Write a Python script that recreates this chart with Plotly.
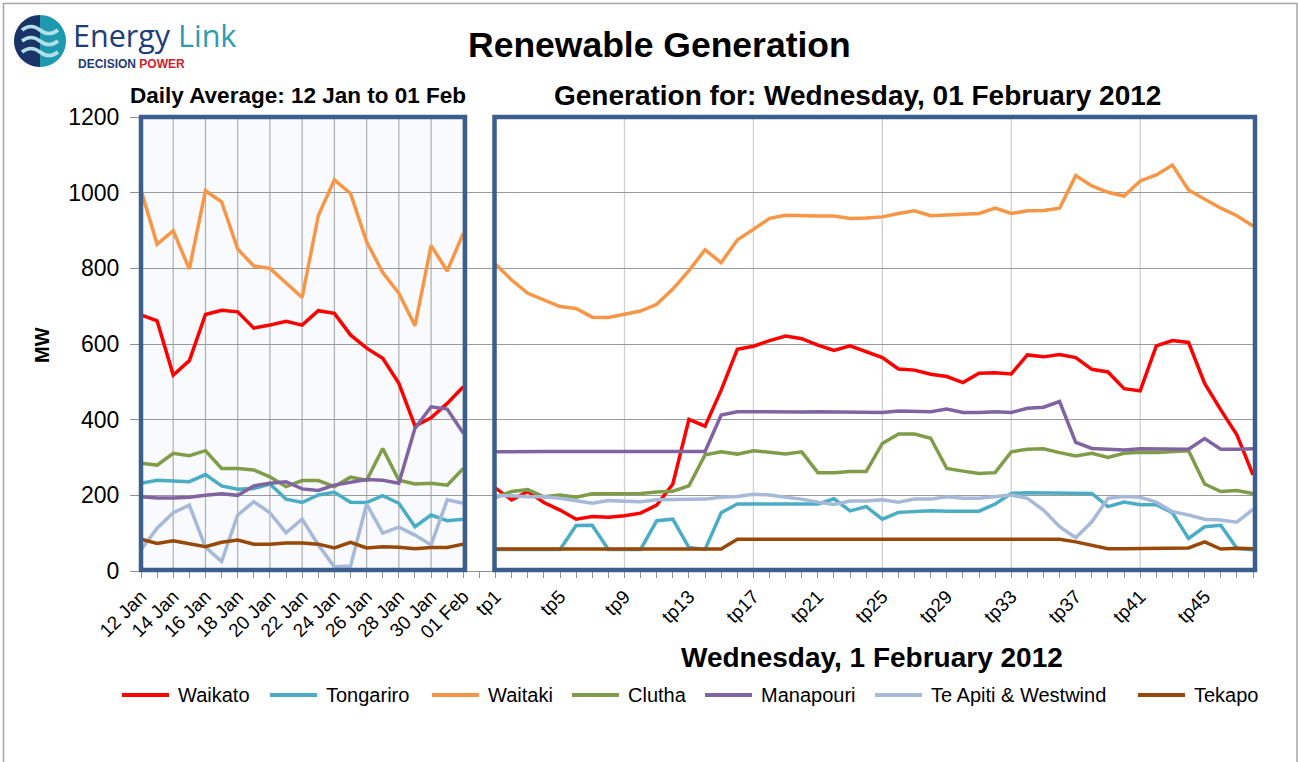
import math
import plotly.graph_objects as go

# ---------------- data ----------------
dates = ["12 Jan", "13 Jan", "14 Jan", "15 Jan", "16 Jan", "17 Jan", "18 Jan",
         "19 Jan", "20 Jan", "21 Jan", "22 Jan", "23 Jan", "24 Jan", "25 Jan",
         "26 Jan", "27 Jan", "28 Jan", "29 Jan", "30 Jan", "31 Jan", "01 Feb"]
gap = [" "]
tps = ["tp%d" % i for i in range(1, 49)]
categories = dates + gap + tps

date_labels = ["12 Jan", "14 Jan", "16 Jan", "18 Jan", "20 Jan", "22 Jan",
               "24 Jan", "26 Jan", "28 Jan", "30 Jan", "01 Feb"]
tp_labels = ["tp1", "tp5", "tp9", "tp13", "tp17", "tp21", "tp25", "tp29",
             "tp33", "tp37", "tp41", "tp45"]
tp_grid = ["tp1", "tp9", "tp17", "tp25", "tp33", "tp41"]

series_names = ["Waikato", "Tongariro", "Waitaki", "Clutha", "Manapouri",
                "Te Apiti & Westwind", "Tekapo"]

waikato_daily = [677, 661, 518, 556, 678, 689, 685, 642, 650, 660, 650, 688, 681, 624,
                 589, 562, 496, 383, 405, 443, 487]
tongariro_daily = [232, 240, 238, 236, 255, 225, 216, 218, 230, 190, 181, 201, 208, 182,
                   181, 199, 179, 117, 148, 133, 137]
waitaki_daily = [1007, 864, 899, 798, 1005, 976, 851, 806, 800, 762, 723, 939, 1034, 998,
                 870, 789, 734, 648, 860, 793, 893]
clutha_daily = [285, 280, 311, 305, 318, 271, 271, 267, 249, 223, 239, 239, 223, 248,
                240, 324, 240, 230, 232, 227, 271]
manapouri_daily = [196, 193, 193, 195, 200, 204, 200, 225, 232, 236, 217, 213, 227, 234,
                   242, 240, 232, 377, 434, 428, 364]
teapiti_daily = [56, 113, 154, 174, 63, 25, 148, 183, 154, 101, 137, 69, 11, 13,
                 177, 100, 116, 95, 69, 188, 179]
tekapo_daily = [84, 73, 80, 73, 64, 76, 82, 71, 71, 74, 74, 71, 61, 76,
                61, 64, 63, 59, 62, 62, 71]

waikato_tp = [219, 188, 210, 181, 161, 137, 144, 142, 146, 153,
              174, 230, 401, 383, 478, 586, 594, 609, 621, 614,
              597, 583, 595, 580, 564, 534, 531, 520, 514, 498,
              523, 524, 521, 571, 566, 572, 564, 533, 526, 482,
              476, 595, 609, 604, 496, 426, 360, 254]
tongariro_tp = [57, 57, 57, 57, 57, 120, 121, 57, 57, 57,
                133, 137, 62, 57, 154, 177, 177, 177, 177, 177,
                177, 191, 159, 170, 137, 155, 157, 159, 158, 158,
                158, 177, 205, 207, 207, 207, 207, 205, 170, 182,
                175, 175, 154, 86, 117, 121, 60, 56]
waitaki_tp = [811, 769, 734, 716, 699, 694, 671, 670, 679, 687,
              705, 745, 794, 849, 815, 875, 903, 932, 940, 938,
              938, 938, 932, 933, 936, 945, 952, 939, 941, 941,
              945, 959, 945, 952, 953, 959, 1045, 1018, 1001, 991,
              1031, 1047, 1073, 1007, 983, 959, 939, 912]
clutha_tp = [195, 210, 215, 196, 201, 195, 204, 204, 204, 205,
             209, 211, 225, 307, 315, 309, 318, 314, 309, 315,
             260, 260, 263, 263, 337, 362, 362, 351, 271, 264,
             258, 260, 315, 322, 323, 313, 304, 311, 300, 311,
             314, 313, 315, 318, 230, 210, 213, 205]
manapouri_tp = [315, 316, 316, 316, 316, 316, 316, 316, 316, 316,
                316, 316, 314, 316, 412, 421, 421, 420, 421, 420,
                421, 421, 421, 421, 419, 423, 421, 421, 428, 419,
                419, 421, 419, 430, 433, 448, 340, 324, 322, 320,
                323, 323, 322, 322, 350, 322, 322, 323]
teapiti_tp = [199, 199, 196, 196, 192, 186, 179, 186, 185, 183,
              188, 188, 190, 190, 195, 197, 203, 201, 195, 190,
              182, 176, 185, 185, 188, 182, 190, 190, 196, 192,
              192, 197, 201, 192, 161, 117, 88, 130, 192, 197,
              195, 182, 157, 148, 137, 135, 129, 163]
tekapo_tp = [58, 58, 58, 58, 58, 58, 58, 58, 58, 58,
             58, 58, 60, 59, 58, 84, 84, 84, 84, 84,
             84, 84, 84, 84, 84, 84, 84, 84, 84, 84,
             84, 84, 84, 84, 84, 84, 77, 69, 59, 59,
             60, 60, 60, 61, 77, 58, 60, 59]

daily = [waikato_daily, tongariro_daily, waitaki_daily, clutha_daily,
         manapouri_daily, teapiti_daily, tekapo_daily]
halfhourly = [waikato_tp, tongariro_tp, waitaki_tp, clutha_tp,
              manapouri_tp, teapiti_tp, tekapo_tp]
colors = ["#FF0000", "#4BACC6", "#F79646", "#7F9C48", "#8064A2", "#A7B9D9", "#984807"]

# ---------------- geometry helpers ----------------
W, H = 1298, 762
L, R, T, B = 141, 45, 117, 191
PW, PH = W - L - R, H - T - B


def px(x):
    return (x - L) / PW


def py(y):
    return (H - B - y) / PH


FONT = "Liberation Sans, Arial, sans-serif"
BOX = "#3B5E8C"

fig = go.Figure()
for name, col, d, h in zip(series_names, colors, daily, halfhourly):
    fig.add_trace(go.Scatter(x=dates, y=d, mode="lines", name=name,
                             legendgroup=name, showlegend=False,
                             line=dict(color=col, width=3.5)))
    fig.add_trace(go.Scatter(x=tps, y=h, mode="lines", name=name,
                             legendgroup=name, showlegend=False,
                             line=dict(color=col, width=3.5)))

ticktext = [c if (c in date_labels or c in tp_labels) else "" for c in categories]

shapes = []
# left panel background
shapes.append(dict(type="rect", xref="paper", yref="paper", x0=px(141), x1=px(465),
                   y0=0, y1=1, fillcolor="#F8FAFD", line=dict(width=0), layer="below"))
# vertical gridlines
for c in date_labels:
    i = categories.index(c)
    shapes.append(dict(type="line", xref="x", yref="y", x0=i, x1=i, y0=0, y1=1200,
                       line=dict(color="#B4B4B4", width=1.3), layer="below"))
for c in tp_grid:
    i = categories.index(c)
    shapes.append(dict(type="line", xref="x", yref="y", x0=i, x1=i, y0=0, y1=1200,
                       line=dict(color="#D0D0D0", width=1.3), layer="below"))
# panel boxes
shapes.append(dict(type="rect", xref="paper", yref="paper", x0=px(141), x1=px(465),
                   y0=py(570), y1=py(117), line=dict(color=BOX, width=4.5), layer="above"))
shapes.append(dict(type="rect", xref="paper", yref="paper", x0=px(494.5), x1=px(1255),
                   y0=py(570), y1=py(117), line=dict(color=BOX, width=4.5), layer="above"))
# outer border
shapes.append(dict(type="rect", xref="paper", yref="paper", x0=px(3.5), x1=px(1297),
                   y0=py(800), y1=py(3.5), line=dict(color="#A6A6A6", width=1.5)))

# logo circle (two halves) and waves
cx, cy, r = 40, 41, 26
left_pts = [(cx + r * math.cos(math.radians(a)), cy + r * math.sin(math.radians(a)))
            for a in range(90, 271, 6)]
right_pts = [(cx + r * math.cos(math.radians(a)), cy + r * math.sin(math.radians(a)))
             for a in range(-90, 91, 6)]


def poly(pts):
    return "M " + " L ".join("%f,%f" % (px(x), py(y)) for x, y in pts) + " Z"


shapes.append(dict(type="path", xref="paper", yref="paper", path=poly(left_pts),
                   fillcolor="#1B3468", line=dict(width=0)))
shapes.append(dict(type="path", xref="paper", yref="paper", path=poly(right_pts),
                   fillcolor="#1E9AB0", line=dict(width=0)))
for wy in (30, 41, 52):
    x0 = 22
    p = "M %f,%f Q %f,%f %f,%f T %f,%f" % (
        px(x0), py(wy), px(x0 + 9), py(wy - 7), px(x0 + 18), py(wy),
        px(x0 + 36), py(wy))
    shapes.append(dict(type="path", xref="paper", yref="paper", path=p,
                       line=dict(color="#B3E0E8", width=3.5)))

# legend (drawn below the chart)
legend_line_x = [122, 270, 432, 572, 705, 875, 1138]
LEG_Y = 695
annotations = []
for name, col, lx in zip(series_names, colors, legend_line_x):
    shapes.append(dict(type="line", xref="paper", yref="paper", x0=px(lx), x1=px(lx + 47),
                       y0=py(LEG_Y), y1=py(LEG_Y), line=dict(color=col, width=4)))
    annotations.append(dict(text=name, x=px(lx + 54), y=py(LEG_Y), xref="paper",
                            yref="paper", xanchor="left", yanchor="middle", showarrow=False,
                            font=dict(size=20, color="black", family=FONT)))


def ann(text, x, y, size, xanchor="center", color="black", family=FONT, angle=0):
    return dict(text=text, x=px(x), y=py(y), xref="paper", yref="paper",
                xanchor=xanchor, yanchor="middle", showarrow=False, textangle=angle,
                font=dict(size=size, color=color, family=family))


annotations += [
    ann("<b>Renewable Generation</b>", 659, 45, 35.5),
    ann("<b>Daily Average: 12 Jan to 01 Feb</b>", 298, 95, 22.5),
    ann("<b>Generation for: Wednesday, 01 February 2012</b>", 857, 95, 28),
    ann("<b>Wednesday, 1 February 2012</b>", 872, 657, 28),
    ann("<b>MW</b>", 42, 345, 20, angle=-90),
    ann("<span style='color:#1F3C7A'>Energy</span> <span style='color:#2A9BB5'>Link</span>",
        71, 35, 30.5, xanchor="left", family="Open Sans, sans-serif"),
    ann("<b><span style='color:#1F3C7A'>DECISION</span> <span style='color:#D4202C'>POWER</span></b>",
        76, 64, 12, xanchor="left"),
]

fig.update_layout(
    width=W, height=H,
    margin=dict(l=L, r=R, t=T, b=B),
    paper_bgcolor="white", plot_bgcolor="white",
    font=dict(family=FONT, color="black"),
    showlegend=False,
    xaxis=dict(type="category", categoryorder="array", categoryarray=categories,
               range=[0, len(categories) - 1], tickmode="array", tickvals=categories,
               ticktext=ticktext, tickangle=-45, ticks="outside", ticklen=6,
               tickcolor="#909090", tickwidth=1.3, showgrid=False, showline=True,
               linecolor="#909090", tickfont=dict(size=19, family=FONT), zeroline=False),
    yaxis=dict(range=[0, 1200], tickvals=[0, 200, 400, 600, 800, 1000, 1200],
               showgrid=True, gridcolor="#9A9A9A", gridwidth=1.3, ticks="outside",
               ticklen=10, tickcolor="#909090", tickwidth=1.3, zeroline=False,
               showline=False, tickfont=dict(size=23, family=FONT), ticklabelstandoff=6),
    shapes=shapes,
    annotations=annotations,
)

fig.write_html("out.html", config={"displayModeBar": False},
               post_script="document.body.style.margin='0px';")
